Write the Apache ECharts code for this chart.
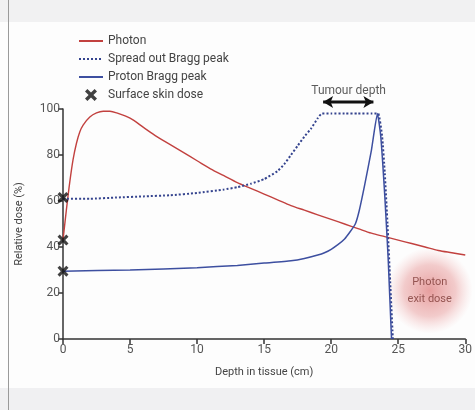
<!DOCTYPE html>
<html lang="en">
<head>
<meta charset="UTF-8">
<title>Photon vs proton depth dose</title>
<script src="https://cdn.jsdelivr.net/npm/echarts@6/dist/echarts.min.js"></script>
<style>html,body{margin:0;padding:0;background:#fff;overflow:hidden}</style>
</head>
<body>
<div id="main" style="width:475px;height:410px;"></div>
<script>
// depth (cm) / relative dose (%)
var depthTicks = [0, 5, 10, 15, 20, 25, 30];
var photon = [[0, 43], [0.25, 56], [0.5, 68], [0.75, 78], [1, 85], [1.25, 90], [1.5, 93], [2, 96.5], [2.5, 98.3],
    [3, 99], [3.5, 99], [4, 98.3], [5, 96], [6, 92], [7, 88], [8, 84.5], [9, 81], [10, 77.5], [11, 74], [12, 71],
    [13, 68], [14, 65.5], [15, 63], [16, 60.5], [17, 58], [18, 56], [19, 54], [20, 52], [21, 50], [22, 48],
    [23, 46], [24, 44.5], [25, 43], [26, 41.5], [27, 40], [28, 38.5], [29, 37.5], [30, 36.5]];
var sobp = [[0, 61], [2, 61], [4, 61.5], [6, 62], [8, 62.5], [10, 63.5], [12, 65], [13, 66], [14, 67.5],
    [15, 69.5], [16, 73], [16.5, 76], [17, 80], [17.5, 84], [18, 88], [18.5, 91.5], [19, 96], [19.3, 98],
    [20, 98], [21, 98], [22, 98], [23, 98], [23.5, 98], [23.8, 88], [24, 72], [24.2, 50], [24.4, 25], [24.6, 0]];
var proton = [[0, 29.5], [5, 30], [10, 31], [13, 32], [15, 33], [17, 34], [18, 35], [19, 36.5], [19.5, 37.5],
    [20, 39], [20.5, 41], [21, 43.5], [21.4, 46.5], [21.8, 50], [22.1, 56], [22.5, 67], [23, 82], [23.45, 98],
    [23.7, 88], [24, 62], [24.25, 35], [24.5, 0]];
var skinDose = [[0, 61.5], [0, 43], [0, 29.5]];
var tumourArrow = [[19.4, 103], [23.15, 103]];
var tumourLabel = [[21.3, 108]];
var exitDose = [[27.35, 21]];

var font = 'Roboto, "Open Sans", sans-serif';
var crossPath = 'path://M2,0 L5,3 L8,0 L10,2 L7,5 L10,8 L8,10 L5,7 L2,10 L0,8 L3,5 L0,2 Z';
var noSymbol = { opacity: 0 };

var myChart = echarts.init(document.getElementById('main'));
myChart.setOption({
    backgroundColor: '#fdfdfd',
    animation: false,
    textStyle: { fontFamily: font },
    graphic: [
        { type: 'rect', left: 0, top: 0, z: -10, shape: { width: 475, height: 22 }, style: { fill: '#f1f1f2' } },
        { type: 'rect', left: 0, top: 388, z: -10, shape: { width: 475, height: 22 }, style: { fill: '#f0f0f2' } },
        { type: 'rect', left: 8, top: 0, z: -9, shape: { width: 1, height: 410 }, style: { fill: '#9a9a9a' } },
        { type: 'text', left: 20, top: -12, style: { text: 'Figure: Relative dose deposition of photon and proton therapy in depth', font: 'bold 12px ' + font, fill: '#222' } },
        { type: 'text', left: 340, top: -12, style: { text: 'Figure', font: 'bold 12px ' + font, fill: '#2a6ebb' } }
    ],
    legend: {
        orient: 'vertical',
        left: 73,
        top: 30,
        itemGap: 6,
        itemWidth: 24,
        itemHeight: 12,
        textStyle: { fontSize: 12, color: '#444', fontFamily: font },
        data: [
            { name: 'Photon', itemStyle: noSymbol },
            { name: 'Spread out Bragg peak', itemStyle: noSymbol },
            { name: 'Proton Bragg peak', itemStyle: noSymbol },
            'Surface skin dose'
        ]
    },
    grid: { left: 63, right: 5, top: 109, bottom: 71 },
    xAxis: {
        type: 'value',
        min: 0,
        max: 30,
        interval: 5,
        name: 'Depth in tissue (cm)',
        nameLocation: 'middle',
        nameGap: 28,
        nameTextStyle: { fontSize: 11, color: '#444' },
        axisLine: { lineStyle: { color: '#333', width: 1.5 } },
        axisTick: { length: 5, lineStyle: { color: '#333', width: 1.5 } },
        axisLabel: { fontSize: 12, color: '#555', margin: 5, showMaxLabel: true,
            formatter: function (v) { return depthTicks.indexOf(v) >= 0 ? String(v) : ''; } },
        splitLine: { show: false }
    },
    yAxis: {
        type: 'value',
        min: 0,
        max: 100,
        interval: 20,
        name: 'Relative dose (%)',
        nameLocation: 'middle',
        nameGap: 38,
        nameTextStyle: { fontSize: 11, color: '#444' },
        axisLine: { show: true, lineStyle: { color: '#333', width: 1.5 } },
        axisTick: { show: true, length: 5, lineStyle: { color: '#333', width: 1.5 } },
        axisLabel: { fontSize: 12, color: '#555', margin: 3 },
        splitLine: { show: false }
    },
    series: [
        {
            name: 'exit',
            type: 'scatter',
            data: exitDose,
            symbolSize: 86,
            clip: false,
            z: 1,
            silent: true,
            itemStyle: {
                color: new echarts.graphic.RadialGradient(0.5, 0.5, 0.5, [
                    { offset: 0, color: 'rgba(218,105,105,0.8)' },
                    { offset: 0.6, color: 'rgba(226,128,128,0.5)' },
                    { offset: 1, color: 'rgba(240,170,170,0)' }
                ])
            },
            label: { show: true, position: 'inside', formatter: 'Photon\nexit dose', fontSize: 11, lineHeight: 17, color: '#7d3a36' }
        },
        {
            name: 'Photon',
            type: 'line',
            data: photon,
            smooth: 0.3,
            symbol: 'none',
            z: 3,
            lineStyle: { color: '#c2413f', width: 1.4 },
            itemStyle: { color: '#c2413f' }
        },
        {
            name: 'Spread out Bragg peak',
            type: 'line',
            data: sobp,
            smooth: 0.15,
            symbol: 'none',
            z: 4,
            lineStyle: { color: '#34438e', width: 2, type: [2, 2] },
            itemStyle: { color: '#34438e' }
        },
        {
            name: 'Proton Bragg peak',
            type: 'line',
            data: proton,
            smooth: 0.15,
            symbol: 'none',
            z: 4,
            lineStyle: { color: '#3d4fa0', width: 1.5 },
            itemStyle: { color: '#3d4fa0' }
        },
        {
            name: 'Surface skin dose',
            type: 'scatter',
            data: skinDose,
            symbol: crossPath,
            symbolSize: 11,
            clip: false,
            z: 6,
            itemStyle: { color: '#111' }
        },
        {
            name: 'tumour',
            type: 'line',
            data: tumourArrow,
            clip: false,
            symbol: 'arrow',
            symbolSize: [9, 10],
            symbolRotate: function (v, p) { return p.dataIndex === 0 ? 90 : -90; },
            z: 5,
            silent: true,
            lineStyle: { color: '#111', width: 3 },
            itemStyle: { color: '#111' }
        },
        {
            name: 'tumourText',
            type: 'scatter',
            data: tumourLabel,
            symbolSize: 0,
            clip: false,
            silent: true,
            label: { show: true, position: 'inside', formatter: 'Tumour depth', fontSize: 12, color: '#333' }
        }
    ]
});
</script>
</body>
</html>
